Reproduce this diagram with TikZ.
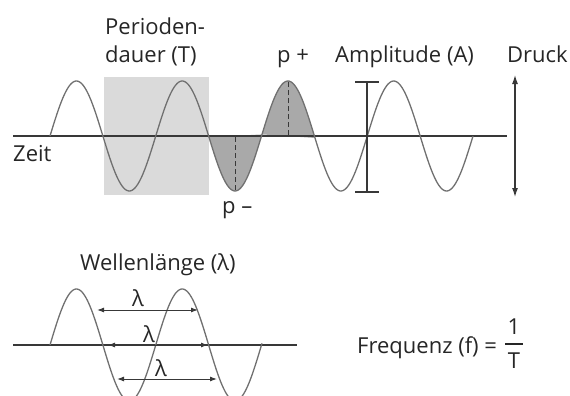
\documentclass[tikz,border=0pt]{standalone}
\usepackage{fontspec}
\setmainfont{Open Sans}
\usetikzlibrary{arrows.meta}
\definecolor{cWave}{HTML}{707070}
\definecolor{cAxis}{HTML}{383838}
\definecolor{cText}{HTML}{262626}
\definecolor{cBox}{HTML}{DADADA}
\definecolor{cPress}{HTML}{A9A9A9}

\begin{document}
\begin{tikzpicture}[x=1pt, y=-1pt, font=\fontsize{22}{28}\selectfont,
    lbl/.style={anchor=base west, inner sep=0pt, text=cText},
    lamlbl/.style={anchor=base, inner sep=0pt, text=cText},
    wave/.style={cWave, line width=1.3pt},
    axisline/.style={cAxis, line width=1.5pt},
    lamarrow/.style={cAxis, line width=1pt, {Latex[length=7pt,width=5pt]}-{Latex[length=7pt,width=5pt]}}]
  \useasboundingbox (0,0) rectangle (570,396);
  % upper wave: Periodendauer box and pressure halves
  \fill[cBox] (104,77) rectangle (209,195);
  \fill[cPress] plot[domain=209:262, samples=40] (\x,{136-55*sin(3.404*(\x-50))}) -- cycle;
  \fill[cPress] plot[domain=262:315, samples=40] (\x,{136-55*sin(3.404*(\x-50))}) -- cycle;
  \draw[axisline] (13,136) -- (507,136);
  \draw[wave] plot[domain=50:473, samples=300] (\x,{136-55*sin(3.404*(\x-50))});
  \draw[cAxis, line width=1pt, dash pattern=on 5pt off 3pt] (235.5,137) -- (235.5,191);
  \draw[cAxis, line width=1pt, dash pattern=on 5pt off 3pt] (288.5,135) -- (288.5,81);
  % amplitude bar
  \coordinate (ampTop) at (367,82);
  \coordinate (ampBot) at (367,192);
  \draw[cAxis, line width=1.2pt] (ampTop) -- (ampBot);
  \draw[cAxis, line width=1.2pt] ([xshift=-12pt]ampTop) -- ([xshift=12pt]ampTop);
  \draw[cAxis, line width=1.2pt] ([xshift=-12pt]ampBot) -- ([xshift=12pt]ampBot);
  % Druck arrow
  \coordinate (druckTop) at (515,75);
  \coordinate (druckBot) at (515,197);
  \draw[cAxis, line width=1.2pt, {Latex[length=9pt,width=6pt]}-{Latex[length=9pt,width=6pt]}] (druckTop) -- (druckBot);
  \node[lbl] (perioden) at (105,35) {Perioden-};
  \node[lbl] (dauer) at (105,63) {dauer (T)};
  \node[lbl] (pplus) at (277,63) {p +};
  \node[lbl] (pminus) at (222,213) {p –};
  \node[lbl] (amplitude) at (335,63) {Amplitude (A)};
  \node[lbl] (druck) at (507,63) {Druck};
  \node[lbl] (zeit) at (13,161) {Zeit};
  % lower wave: Wellenlaenge
  \draw[axisline] (13,345) -- (297,345);
  \draw[wave] plot[domain=50:262, samples=200] (\x,{345-56*sin(3.404*(\x-50))});
  \coordinate (lamAl) at (97,310);   \coordinate (lamAr) at (198,310);
  \coordinate (lamBl) at (108,345);  \coordinate (lamBr) at (208,345);
  \coordinate (lamCl) at (117,379);  \coordinate (lamCr) at (217,379);
  \draw[lamarrow] (lamAl) -- (lamAr);
  \draw[lamarrow] (lamBl) -- (lamBr);
  \draw[lamarrow] (lamCl) -- (lamCr);
  \node[lamlbl] (lamA) at (138,306) {λ};
  \node[lamlbl] (lamB) at (149,342) {λ};
  \node[lamlbl] (lamC) at (161,376) {λ};
  \node[lbl] (wellen) at (80,270) {Wellenlänge (λ)};
  % Frequenz
  \node[lbl] (freq) at (357,353) {Frequenz (f) =};
  \node[lamlbl] (one) at (514,334) {1};
  \node[lamlbl] (tee) at (514,368) {T};
  \coordinate (barL) at (505,344);
  \coordinate (barR) at (523,344);
  \draw[cText, line width=1.1pt] (barL) -- (barR);
\end{tikzpicture}
\end{document}
